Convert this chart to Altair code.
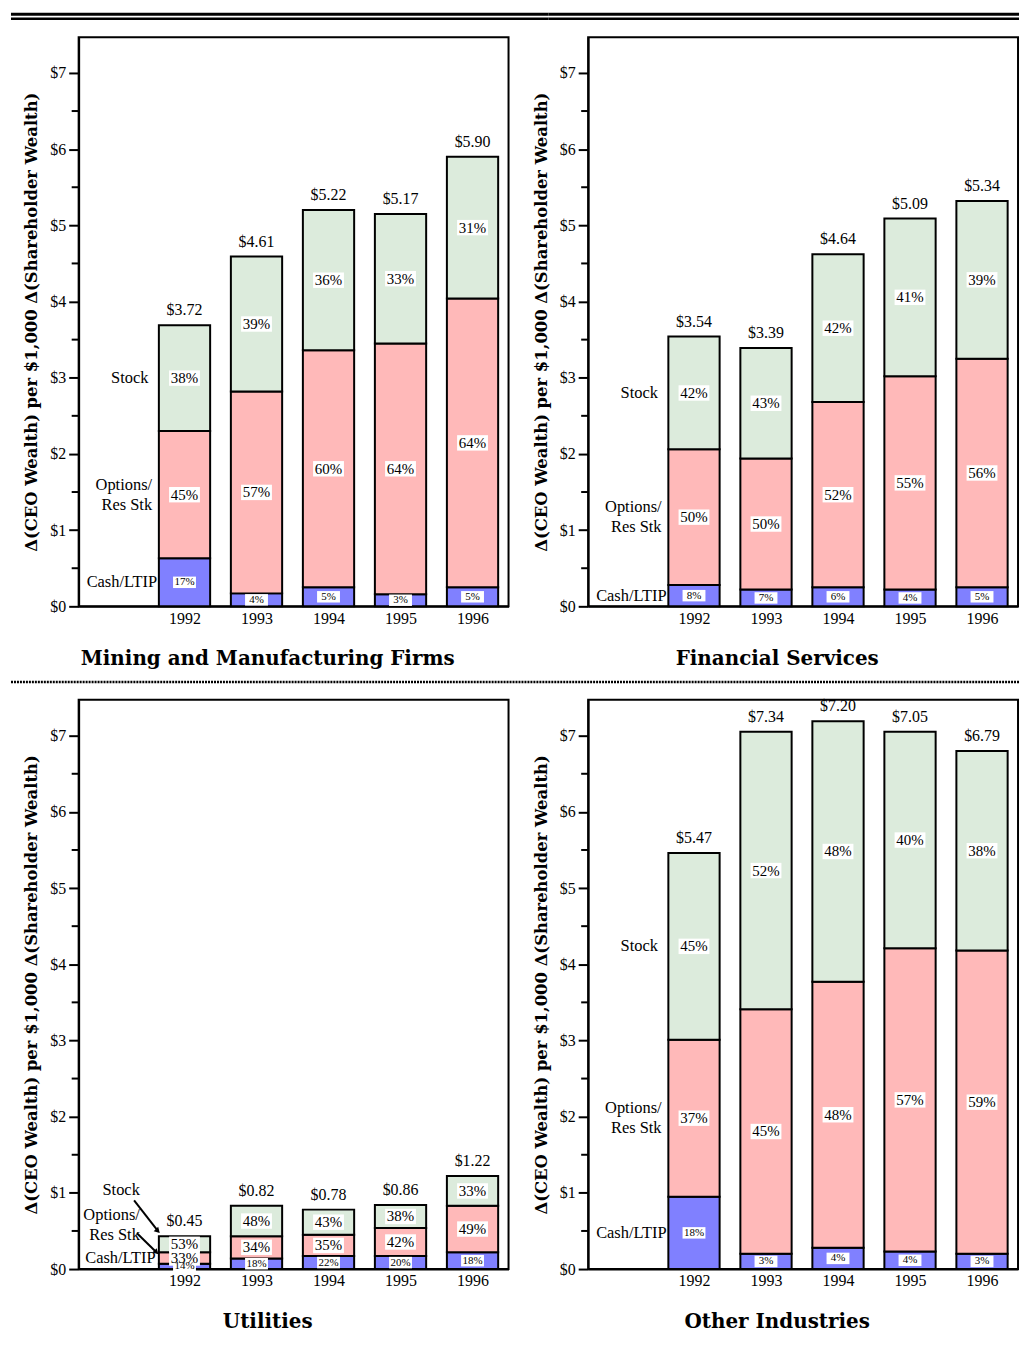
import altair as alt
import pandas as pd

# ---------------- data ----------------
years = [1992, 1993, 1994, 1995, 1996]
segments = ["Cash/LTIP", "Options/Res Stk", "Stock"]
seg_labels = ["Cash/LTIP", "Options/\nRes Stk", "Stock"]
seg_colors = ["#8080FF", "#FFB9B9", "#DCEBDC"]
y_ticks = [0, 1, 2, 3, 4, 5, 6, 7]
y_minor = [0.5, 1.5, 2.5, 3.5, 4.5, 5.5, 6.5]

panel_titles = ["Mining and Manufacturing Firms", "Financial Services",
                "Utilities", "Other Industries"]

# segment tops ($)
mining_cash_top = [0.63, 0.17, 0.25, 0.16, 0.25]
mining_options_top = [2.30, 2.82, 3.36, 3.45, 4.04]
mining_bar_top = [3.69, 4.59, 5.20, 5.15, 5.90]
mining_pct_cash = [17, 4, 5, 3, 5]
mining_pct_options = [45, 57, 60, 64, 64]
mining_pct_stock = [38, 39, 36, 33, 31]
mining_totals = ["$3.72", "$4.61", "$5.22", "$5.17", "$5.90"]

fin_cash_top = [0.28, 0.22, 0.25, 0.22, 0.25]
fin_options_top = [2.06, 1.94, 2.68, 3.02, 3.25]
fin_bar_top = [3.54, 3.39, 4.62, 5.09, 5.32]
fin_pct_cash = [8, 7, 6, 4, 5]
fin_pct_options = [50, 50, 52, 55, 56]
fin_pct_stock = [42, 43, 42, 41, 39]
fin_totals = ["$3.54", "$3.39", "$4.64", "$5.09", "$5.34"]

util_cash_top = [0.07, 0.14, 0.17, 0.17, 0.22]
util_options_top = [0.22, 0.43, 0.45, 0.54, 0.83]
util_bar_top = [0.43, 0.83, 0.78, 0.84, 1.22]
util_pct_cash = [14, 18, 22, 20, 18]
util_pct_options = [33, 34, 35, 42, 49]
util_pct_stock = [53, 48, 43, 38, 33]
util_totals = ["$0.45", "$0.82", "$0.78", "$0.86", "$1.22"]
# annotation anchors for the Utilities panel (data units)
util_label_y = [0.14, 0.58, 1.04]
util_label_x = [-0.40, -0.62, -0.62]
util_arrow_x = [-0.70, -0.66]
util_arrow_y = [0.90, 0.47]
util_arrow_x2 = [-0.37, -0.39]
util_arrow_y2 = [0.50, 0.22]

other_cash_top = [0.95, 0.20, 0.28, 0.23, 0.20]
other_options_top = [3.01, 3.41, 3.77, 4.21, 4.18]
other_bar_top = [5.46, 7.05, 7.19, 7.05, 6.80]
other_pct_cash = [18, 3, 4, 4, 3]
other_pct_options = [37, 45, 48, 57, 59]
other_pct_stock = [45, 52, 48, 40, 38]
other_totals = ["$5.47", "$7.34", "$7.20", "$7.05", "$6.79"]

default_label_x = [-0.38, -0.45, -0.50]

# ---------------- layout / style ----------------
H = 572
XDOM = [-1.47, 4.5]
YDOM = [0, 7.47]
SERIF = "Liberation Serif"
YTITLE = "\u0394(CEO Wealth) per $1,000 \u0394(Shareholder Wealth)"
one = pd.DataFrame({"k": [0]})


def panel(title, cash_top, opt_top, bar_top, p_cash, p_opt, p_stock, totals,
          width, left_ext, right_ext, rule_kind,
          label_y=None, label_x=None, arrows=None):
    rows = []
    for i, yr in enumerate(years):
        b = [0, cash_top[i], opt_top[i], bar_top[i]]
        pc = [p_cash[i], p_opt[i], p_stock[i]]
        for j, seg in enumerate(segments):
            rows.append(dict(idx=i, seg=seg, lo=b[j], hi=b[j + 1], pct=pc[j]))
    df = pd.DataFrame(rows)
    tot = pd.DataFrame({"idx": list(range(len(years))), "top": bar_top, "lab": totals})
    b0 = [0, cash_top[0], opt_top[0], bar_top[0]]
    lx = label_x if label_x else default_label_x
    ly = label_y if label_y else [(b0[j] + b0[j + 1]) / 2 for j in range(3)]
    labs = pd.DataFrame({"x": lx, "y": ly, "t": seg_labels,
                         "multi": ["\n" in s for s in seg_labels]})

    xs = alt.Scale(domain=XDOM, nice=False, zero=False)
    ys = alt.Scale(domain=YDOM, nice=False)
    xaxis = alt.Axis(values=list(range(len(years))),
                     labelExpr=str(years) + "[datum.value]",
                     ticks=False, title=None, grid=False, labelFont=SERIF,
                     labelFontSize=16, labelPadding=4, domainWidth=2,
                     domainColor="black", labelColor="black")
    yaxis = alt.Axis(values=y_ticks, labelExpr="'$' + datum.value", title=YTITLE,
                     titleFont="DejaVu Serif", titleFontSize=16.5,
                     titleFontWeight="bold",
                     titlePadding=10, titleColor="black", tickSize=10, tickWidth=2,
                     tickColor="black", domainWidth=2, domainColor="black",
                     grid=False, labelFont=SERIF, labelFontSize=16,
                     labelColor="black", labelPadding=3)

    base = alt.Chart(df)
    bars = base.transform_calculate(
        xl="datum.idx - 0.356", xr="datum.idx + 0.356"
    ).mark_bar(stroke="black", strokeWidth=2, opacity=1).encode(
        x=alt.X("xl:Q", scale=xs, axis=xaxis),
        x2="xr:Q",
        y=alt.Y("lo:Q", scale=ys, axis=yaxis),
        y2="hi:Q",
        color=alt.Color("seg:N", scale=alt.Scale(domain=segments, range=seg_colors),
                        legend=None),
    )
    lab_calc = base.transform_calculate(
        mid="(datum.lo + datum.hi) / 2",
        bs="datum.seg == 'Cash/LTIP' ? 529 : 961",
        fs="datum.seg == 'Cash/LTIP' ? 11 : 15",
        pt="datum.pct + '%'",
    )
    boxes = lab_calc.mark_point(shape="M-1,-0.5H1V0.5H-1Z", filled=True,
                                color="white", opacity=1, strokeWidth=0).encode(
        x=alt.X("idx:Q", scale=xs), y=alt.Y("mid:Q", scale=ys),
        size=alt.Size("bs:Q", scale=None),
    )
    texts = lab_calc.mark_text(font=SERIF, color="black", baseline="middle").encode(
        x=alt.X("idx:Q", scale=xs), y=alt.Y("mid:Q", scale=ys),
        text="pt:N", size=alt.Size("fs:Q", scale=None),
    )
    totals_t = alt.Chart(tot).mark_text(font=SERIF, fontSize=16, color="black",
                                        baseline="bottom", dy=-7).encode(
        x=alt.X("idx:Q", scale=xs), y=alt.Y("top:Q", scale=ys), text="lab:N")
    cat_base = alt.Chart(labs)
    cat_single = cat_base.transform_filter("!datum.multi").mark_text(
        font=SERIF, fontSize=16.5, color="black", align="right",
        baseline="middle").encode(
        x=alt.X("x:Q", scale=xs), y=alt.Y("y:Q", scale=ys), text="t:N")
    cat_multi = cat_base.transform_filter("datum.multi").mark_text(
        font=SERIF, fontSize=16.5, color="black", align="right",
        baseline="middle", lineBreak="\n", lineHeight=20, dy=-10).encode(
        x=alt.X("x:Q", scale=xs), y=alt.Y("y:Q", scale=ys), text="t:N")
    minor = alt.Chart(pd.DataFrame({"v": y_minor})).mark_rule(
        color="black", strokeWidth=2).encode(
        x=alt.value(-7), x2=alt.value(0), y=alt.Y("v:Q", scale=ys))

    layers = [bars, boxes, texts, totals_t, cat_single, cat_multi, minor]

    if arrows is not None:
        adf = pd.DataFrame({"x": arrows[0], "y": arrows[1],
                            "x2": arrows[2], "y2": arrows[3]})
        layers.append(alt.Chart(adf).mark_rule(color="black", strokeWidth=2).encode(
            x=alt.X("x:Q", scale=xs), y=alt.Y("y:Q", scale=ys),
            x2="x2:Q", y2="y2:Q"))
        layers.append(alt.Chart(adf).mark_point(shape="triangle-up", filled=True,
                                                color="black", size=40,
                                                angle=135, opacity=1).encode(
            x=alt.X("x2:Q", scale=xs), y=alt.Y("y2:Q", scale=ys)))

    if rule_kind == "top":
        layers.append(alt.Chart(one).mark_rule(color="black", strokeWidth=3).encode(
            x=alt.value(-left_ext), x2=alt.value(width + right_ext), y=alt.value(-23)))
        layers.append(alt.Chart(one).mark_rule(color="black", strokeWidth=2.5).encode(
            x=alt.value(-left_ext), x2=alt.value(width + right_ext), y=alt.value(-18.5)))
    else:
        layers.append(alt.Chart(one).mark_rule(color="black", strokeWidth=2.5,
                                               strokeDash=[2, 1]).encode(
            x=alt.value(-left_ext), x2=alt.value(width + right_ext), y=alt.value(-18)))

    return alt.layer(*layers).properties(
        width=width, height=H,
        title=alt.TitleParams(title, orient="bottom", font="DejaVu Serif",
                              fontSize=20, fontWeight="bold", color="black",
                              anchor="middle", frame="group", dx=-26, offset=23),
    )


W1, W2 = 432, 432
GAP = 80
p1 = panel(panel_titles[0], mining_cash_top, mining_options_top, mining_bar_top,
           mining_pct_cash, mining_pct_options, mining_pct_stock, mining_totals,
           W1, 68, GAP / 2, "top")
p2 = panel(panel_titles[1], fin_cash_top, fin_options_top, fin_bar_top,
           fin_pct_cash, fin_pct_options, fin_pct_stock, fin_totals,
           W2, GAP / 2, 1, "top")
p3 = panel(panel_titles[2], util_cash_top, util_options_top, util_bar_top,
           util_pct_cash, util_pct_options, util_pct_stock, util_totals,
           W1, 68, GAP / 2, "sep", label_y=util_label_y, label_x=util_label_x,
           arrows=(util_arrow_x, util_arrow_y, util_arrow_x2, util_arrow_y2))
p4 = panel(panel_titles[3], other_cash_top, other_options_top, other_bar_top,
           other_pct_cash, other_pct_options, other_pct_stock, other_totals,
           W2, GAP / 2, 1, "sep")

chart = alt.concat(p1, p2, p3, p4, columns=2, bounds="flush",
                   spacing={"row": 94, "column": GAP}).properties(
    padding={"left": 0, "top": 0, "right": 0, "bottom": 0}
).configure_view(stroke="black", strokeWidth=2)

chart.save("out.html", embed_options={"renderer": "svg", "actions": False})
